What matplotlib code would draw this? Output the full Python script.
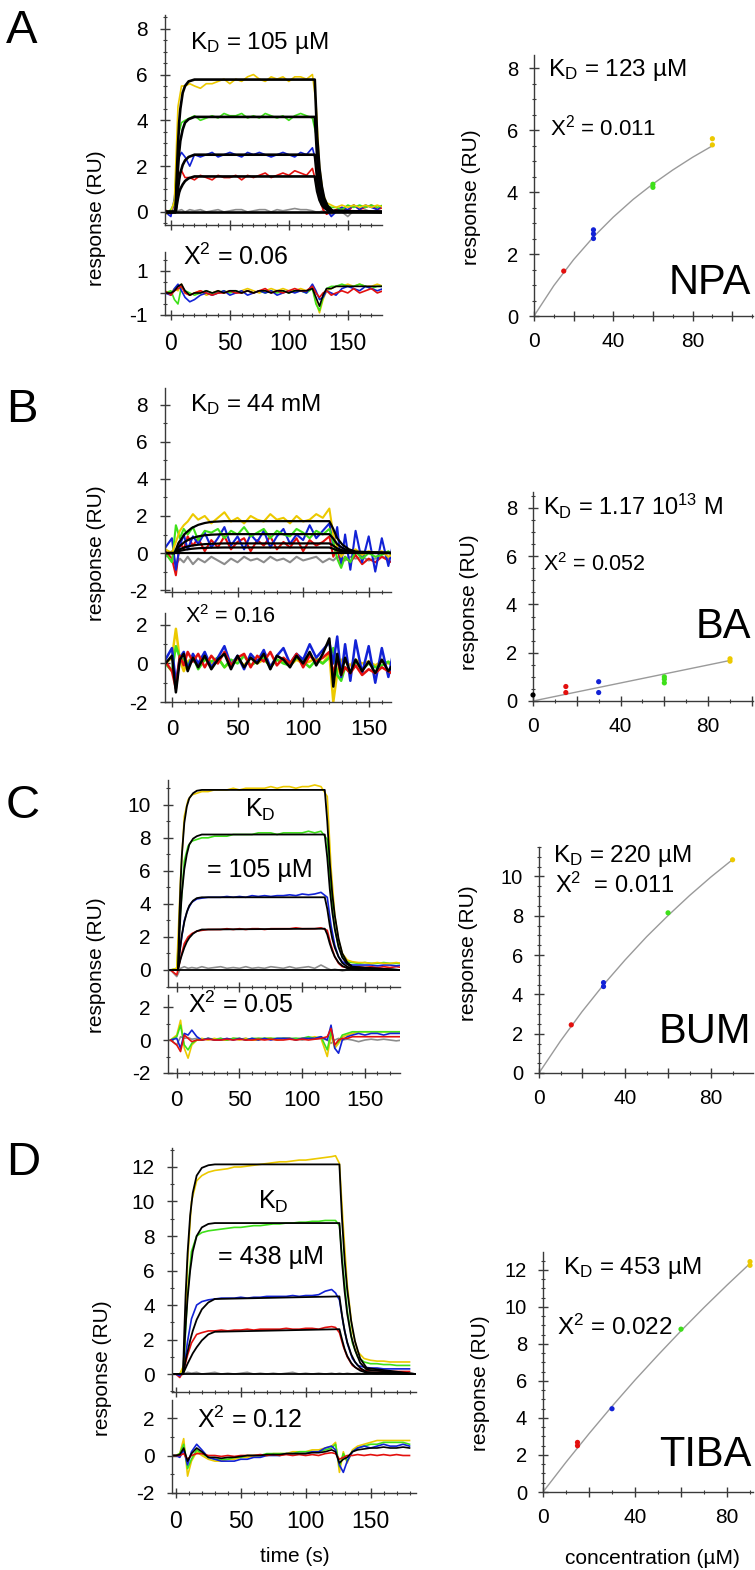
import matplotlib
matplotlib.use('Agg')
import matplotlib.pyplot as plt
from matplotlib.ticker import MultipleLocator, FuncFormatter, NullFormatter

plt.rcParams['font.family'] = ['Liberation Sans', 'DejaVu Sans']
plt.rcParams['mathtext.fontset'] = 'custom'
plt.rcParams['mathtext.rm'] = 'Liberation Sans'
plt.rcParams['mathtext.it'] = 'Liberation Sans:italic'

# ---------------- data ----------------
# shared time grid (s) for the measured sensorgrams and residuals
t_grid = [-5, 0, 3, 6, 9, 12, 16, 20, 25, 30, 35, 40, 45, 50, 55, 60, 65, 70, 75, 80, 85, 90,
          95, 100, 105, 110, 115, 120, 123, 126, 129, 132, 136, 140, 145, 150, 155, 160, 165,
          170, 175, 180]

# A (NPA)
a_yellow = [-0.1, 0.0, 0.5, 4.6, 5.5, 5.5, 5.6, 5.5, 5.4, 5.6, 5.6, 5.7, 5.8, 5.6, 5.8, 5.7, 5.9, 6.0, 5.8, 5.7, 5.9,
            5.8, 5.9, 5.7, 5.9, 5.9, 5.8, 6.0, 4.8, 2.0, 0.8, 0.4, 0.3, 0.2, 0.3, 0.2, 0.3, 0.2, 0.3, 0.2, 0.3, 0.2]
a_green = [-0.1, 0.1, 0.4, 3.3, 3.9, 4.0, 4.1, 4.2, 4.0, 4.1, 4.2, 4.1, 4.3, 4.2, 4.2, 4.3, 4.1, 4.2, 4.1, 4.3, 4.2,
           4.1, 4.2, 4.0, 4.2, 4.3, 4.2, 4.1, 3.4, 1.5, 0.6, 0.3, 0.2, 0.2, 0.1, 0.3, 0.2, 0.3, 0.2, 0.3, 0.2, 0.3]
a_blue = [0.0, -0.2, 0.6, 2.3, 2.6, 2.4, 2.0, 2.5, 2.4, 2.5, 2.6, 2.4, 2.5, 2.6, 2.5, 2.4, 2.6, 2.5, 2.6, 2.5, 2.4,
          2.5, 2.6, 2.5, 2.4, 2.6, 2.5, 2.8, 2.2, 1.0, 0.4, 0.1, -0.2, 0.0, 0.2, 0.1, 0.3, 0.1, 0.3, 0.2, 0.1, 0.3]
a_red = [0.1, -0.1, 0.4, 1.6, 1.8, 1.5, 1.5, 1.4, 1.6, 1.5, 1.4, 1.6, 1.5, 1.5, 1.6, 1.4, 1.6, 1.5, 1.6, 1.7, 1.5,
         1.6, 1.7, 1.6, 1.8, 1.7, 1.6, 1.9, 1.3, 0.6, 0.1, -0.1, 0.0, 0.1, 0.2, 0.0, 0.3, 0.1, 0.2, 0.3, 0.1, 0.2]
a_gray = [0.0, -0.05, 0.1, 0.05, 0.1, 0.0, 0.1, 0.05, 0.1, 0.0, 0.05, 0.1, 0.0, 0.05, 0.1, 0.1, 0.0, 0.05, 0.1, 0.1,
          0.0, 0.1, 0.05, 0.1, 0.15, 0.1, 0.1, 0.05, 0.0, 0.0, 0.05, 0.0, -0.1, 0.05, 0.0, -0.2, 0.05, 0.0, 0.1, 0.0,
          0.05, 0.0]
a_fit_t = [-5, 4, 5, 6, 7, 8, 10, 12, 15, 20, 122, 124, 126, 128, 130, 133, 137, 180]
a_fit_yellow = [0, 0, 1.6, 2.9, 3.9, 4.5, 5.2, 5.5, 5.7, 5.78, 5.78, 3.3, 1.9, 1.1, 0.6, 0.25, 0.05, 0]
a_fit_green = [0, 0, 1.0, 1.9, 2.6, 3.1, 3.6, 3.9, 4.05, 4.15, 4.15, 2.4, 1.4, 0.8, 0.45, 0.2, 0.04, 0]
a_fit_blue = [0, 0, 0.55, 1.0, 1.4, 1.7, 2.05, 2.25, 2.4, 2.5, 2.5, 1.45, 0.85, 0.5, 0.3, 0.12, 0.02, 0]
a_fit_red = [0, 0, 0.3, 0.6, 0.85, 1.0, 1.2, 1.35, 1.47, 1.55, 1.55, 0.9, 0.52, 0.3, 0.18, 0.08, 0.01, 0]
a_res_yellow = [0.0, 0.0, 0.2, 0.1, 0.4, 0.0, -0.1, 0.0, 0.1, -0.1, 0.0, 0.1, 0.0, 0.1, 0.0, 0.1, 0.2, 0.1, 0.0, 0.1,
                0.2, 0.1, 0.2, 0.1, 0.1, 0.2, 0.1, 0.3, -0.4, -0.9, -0.3, 0.1, 0.2, 0.3, 0.3, 0.4, 0.3, 0.4, 0.3, 0.3,
                0.4, 0.3]
a_res_green = [0.0, 0.1, -0.3, -0.5, 0.3, 0.1, 0.0, -0.1, 0.0, 0.1, 0.0, 0.0, 0.1, 0.0, 0.1, 0.0, 0.1, 0.0, 0.1, 0.0,
               0.1, 0.0, 0.1, 0.0, 0.1, 0.1, 0.0, 0.2, -0.5, -0.8, -0.2, 0.2, 0.3, 0.3, 0.4, 0.3, 0.3, 0.4, 0.3, 0.2,
               0.3, 0.3]
a_res_blue = [0.0, -0.1, 0.2, 0.4, 0.1, -0.2, -0.4, -0.3, -0.1, 0.0, -0.1, 0.0, 0.1, -0.1, 0.0, 0.1, -0.1, 0.0, 0.1,
              0.0, 0.1, -0.1, 0.0, 0.1, 0.0, 0.1, 0.0, 0.4, 0.1, -0.3, -0.2, 0.1, 0.0, -0.1, 0.2, 0.3, 0.2, 0.1, 0.3,
              0.2, 0.1, 0.2]
a_res_red = [0.1, -0.1, 0.1, 0.2, 0.3, 0.0, -0.1, 0.0, 0.1, 0.0, -0.1, 0.0, 0.0, 0.1, 0.0, 0.0, 0.1, 0.0, 0.1, 0.2,
             0.0, 0.1, 0.0, 0.1, 0.2, 0.1, 0.1, 0.3, 0.0, -0.2, 0.0, 0.1, -0.1, 0.0, 0.1, 0.0, 0.2, 0.0, 0.1, 0.2,
             0.0, 0.1]
a_res_black = [0.0, 0.0, 0.1, 0.3, 0.4, 0.1, -0.1, 0.0, 0.0, 0.1, 0.0, 0.1, 0.0, 0.1, 0.1, 0.0, 0.1, 0.0, 0.1, 0.1,
               0.0, 0.1, 0.1, 0.0, 0.1, 0.1, 0.1, 0.2, -0.2, -0.6, -0.1, 0.2, 0.2, 0.3, 0.3, 0.3, 0.3, 0.3, 0.3, 0.3,
               0.3, 0.3]
a_conc = [15, 30, 30, 30, 60, 60, 90, 90]
a_resp = [1.45, 2.5, 2.65, 2.78, 4.15, 4.25, 5.52, 5.72]
a_curve_c = [0, 10, 20, 30, 40, 50, 60, 70, 80, 90]
a_curve_r = [0, 0.98, 1.82, 2.55, 3.19, 3.76, 4.26, 4.71, 5.12, 5.49]

# B (BA)
b_yellow = [0.2, 0.0, 0.6, 1.2, 1.5, 1.7, 2.1, 1.8, 2.0, 1.6, 1.9, 2.2, 1.7, 1.9, 1.6, 2.0, 1.8, 1.7, 2.1, 1.8, 1.9,
            1.6, 2.0, 1.7, 1.8, 2.1, 1.9, 2.4, 1.0, 0.3, -0.2, 0.1, 0.0, 0.2, -0.1, 0.1, 0.0, 0.1, -0.2, 0.0, 0.1, 0.0]
b_green = [0.0, -0.5, 1.5, 0.8, 1.3, 1.0, 1.4, 0.7, 1.2, 1.1, 1.3, 0.8, 1.2, 1.0, 1.4, 0.9, 1.1, 1.3, 0.8, 1.2, 1.0,
           0.9, 1.3, 1.1, 0.8, 1.2, 1.0, 1.3, 0.6, -0.3, -0.8, -0.2, -0.5, 0.1, -0.3, 0.0, -0.2, -0.1, 0.1, -0.3, 0.0,
           -0.1]
b_blue = [0.3, 0.8, -0.9, 0.4, 1.0, 0.2, 0.9, 0.5, 1.1, 0.3, 0.8, 1.4, 0.4, 0.9, 0.2, 1.0, 0.6, 1.2, 0.3, 0.9, 1.3,
          0.5, 1.0, 0.7, 1.5, 0.8, 1.2, 1.6, 0.4, 1.4, -0.6, 1.0, -0.9, 1.2, -0.5, 0.9, -1.0, 0.8, -0.7, 1.0, -1.1, 0.9]
b_red = [0.1, -0.3, -1.2, 0.6, 0.2, 0.9, 0.4, 0.8, 0.1, 0.7, 0.3, 0.9, 0.2, 0.6, 0.8, 0.1, 0.7, 0.4, 0.9, 0.2, 0.6,
         0.3, 0.8, 0.1, 0.7, 0.4, 0.6, 0.9, -0.2, 0.3, -0.6, -0.2, -0.5, -0.1, -0.6, -0.3, -0.5, -0.2, -0.4, -0.6,
         -0.3, -0.5]
b_gray = [-0.2, 0.1, -0.6, -0.3, -0.5, -0.2, -0.6, -0.3, -0.5, -0.2, -0.4, -0.6, -0.3, -0.5, -0.2, -0.4, -0.3, -0.5,
          -0.2, -0.4, -0.3, -0.5, -0.2, -0.4, -0.3, -0.2, -0.5, -0.3, -0.4, -0.2, -0.3, -0.4, -0.2, -0.3, -0.2, -0.4,
          -0.3, -0.2, -0.3, -0.2, -0.3, -0.2]
b_fit_t = [-5, 2, 5, 10, 15, 20, 25, 30, 40, 120, 123, 126, 130, 135, 140, 170]
b_fit_yellow = [0, 0, 0.55, 1.05, 1.35, 1.52, 1.62, 1.68, 1.72, 1.72, 1.3, 0.8, 0.45, 0.2, 0.08, 0]
b_fit_green = [0, 0, 0.33, 0.62, 0.8, 0.9, 0.96, 0.99, 1.02, 1.02, 0.78, 0.48, 0.27, 0.12, 0.05, 0]
b_fit_blue = [0, 0, 0.17, 0.32, 0.4, 0.45, 0.48, 0.5, 0.52, 0.52, 0.4, 0.25, 0.14, 0.06, 0.02, 0]
b_fit_red = [0, 0, 0.1, 0.18, 0.23, 0.26, 0.28, 0.29, 0.3, 0.3, 0.23, 0.14, 0.08, 0.04, 0.01, 0]
b_res_yellow = [0.0, 0.3, 1.8, 0.2, -0.4, 0.1, 0.3, -0.1, 0.2, 0.0, 0.3, -0.2, 0.1, 0.2, -0.1, 0.3, 0.0, 0.2, -0.1,
                0.2, 0.1, -0.1, 0.2, 0.0, 0.1, 0.3, 0.0, 0.5, -2.0, -0.5, 0.2, 0.1, -0.1, 0.2, 0.0, 0.1, -0.1, 0.1,
                0.0, 0.1, 0.0, 0.1]
b_res_green = [0.0, -0.4, 0.9, 0.3, 0.2, -0.1, 0.4, -0.3, 0.2, 0.1, 0.3, -0.2, 0.2, 0.0, 0.4, -0.1, 0.1, 0.3, -0.2,
               0.2, 0.0, -0.1, 0.3, 0.1, -0.2, 0.2, 0.0, 0.3, 0.8, -0.6, -0.9, -0.2, -0.5, 0.1, -0.3, 0.0, -0.2, -0.1,
               0.1, -0.3, 0.0, -0.1]
b_res_blue = [0.2, 0.8, -1.0, 0.3, 0.6, -0.3, 0.5, 0.0, 0.6, -0.2, 0.3, 0.9, -0.1, 0.4, -0.3, 0.5, 0.1, 0.7, -0.2,
              0.4, 0.8, 0.0, 0.5, 0.2, 1.0, 0.3, 0.7, 1.1, 0.0, 1.4, -0.7, 1.0, -0.9, 1.2, -0.5, 0.9, -1.0, 0.8, -0.7,
              1.0, -1.1, 0.9]
b_res_red = [0.1, -0.4, -1.3, 0.4, -0.1, 0.6, 0.1, 0.5, -0.2, 0.4, 0.0, 0.6, -0.1, 0.3, 0.5, -0.2, 0.4, 0.1, 0.6,
             -0.1, 0.3, 0.0, 0.5, -0.2, 0.4, 0.1, 0.3, 0.6, -0.5, 0.2, -0.6, -0.2, -0.5, -0.1, -0.6, -0.3, -0.5, -0.2,
             -0.4, -0.6, -0.3, -0.5]
b_res_black = [0.0, 0.4, -1.5, 0.2, 0.5, -0.4, 0.3, -0.2, 0.4, -0.3, 0.2, 0.5, -0.3, 0.4, -0.2, 0.3, 0.0, 0.5, -0.3,
               0.4, 0.2, -0.2, 0.4, 0.0, 0.6, -0.1, 0.5, 1.3, -1.2, 0.5, -0.6, 0.3, -0.5, 0.2, -0.4, 0.1, -0.5, 0.2,
               -0.4, 0.1, -0.5, 0.0]
b_conc = [0, 15, 15, 30, 30, 60, 60, 60, 90, 90]
b_resp = [0.25, 0.35, 0.6, 0.35, 0.8, 0.75, 0.9, 1.0, 1.65, 1.75]
b_curve_c = [0, 90]
b_curve_r = [0, 1.68]

# C (BUM)
c_yellow = [0.0, 0.1, 5.5, 9.3, 10.3, 10.6, 10.7, 10.8, 10.8, 10.9, 10.9, 10.9, 11.0, 10.9, 11.0, 11.0, 11.0, 11.0,
            11.1, 11.0, 11.1, 11.1, 11.0, 11.1, 11.1, 11.2, 11.1, 10.5, 6.2, 3.3, 1.8, 1.0, 0.6, 0.5, 0.45, 0.45, 0.4,
            0.45, 0.4, 0.4, 0.45, 0.4]
c_green = [0.0, 0.1, 3.6, 6.6, 7.5, 7.8, 7.9, 8.0, 8.0, 8.1, 8.1, 8.1, 8.2, 8.2, 8.2, 8.2, 8.3, 8.3, 8.3, 8.2, 8.3,
           8.3, 8.3, 8.3, 8.4, 8.3, 8.4, 7.9, 4.7, 2.5, 1.4, 0.8, 0.5, 0.45, 0.4, 0.45, 0.4, 0.4, 0.45, 0.4, 0.4, 0.4]
c_blue = [0.0, 0.0, 1.5, 3.0, 3.7, 4.1, 4.3, 4.35, 4.4, 4.4, 4.4, 4.45, 4.4, 4.45, 4.4, 4.5, 4.45, 4.5, 4.45, 4.5,
          4.5, 4.55, 4.5, 4.6, 4.55, 4.6, 4.7, 4.4, 2.7, 1.5, 0.8, 0.5, 0.35, 0.3, 0.3, 0.3, 0.3, 0.25, 0.3, 0.3, 0.25,
          0.3]
c_red = [0.0, -0.3, 0.7, 1.6, 2.0, 2.2, 2.35, 2.4, 2.45, 2.45, 2.45, 2.5, 2.45, 2.5, 2.45, 2.5, 2.5, 2.45, 2.5, 2.5,
         2.5, 2.5, 2.55, 2.5, 2.5, 2.5, 2.55, 2.4, 1.5, 0.8, 0.4, 0.2, 0.15, 0.15, 0.2, 0.15, 0.2, 0.15, 0.2, 0.15,
         0.2, 0.15]
c_gray = [0.0, -0.4, 0.1, 0.2, 0.1, 0.15, 0.1, 0.2, 0.1, 0.15, 0.2, 0.1, 0.15, 0.1, 0.2, 0.1, 0.15, 0.1, 0.2, 0.15,
          0.1, 0.2, 0.1, 0.15, 0.2, 0.1, 0.3, 0.1, 0.0, 0.05, 0.0, -0.05, 0.0, 0.05, 0.0, 0.05, 0.0, 0.05, 0.0, 0.05,
          0.0, 0.0]
c_fit_t = [-7, 1, 2, 3, 4, 6, 8, 10, 13, 16, 20, 118, 120, 122, 124, 126, 129, 132, 136, 140, 178]
c_fit_yellow = [0, 0, 3.0, 5.2, 6.9, 8.9, 9.9, 10.4, 10.7, 10.85, 10.9, 10.9, 9.0, 6.5, 4.6, 3.3, 1.9, 1.0, 0.45, 0.2, 0]
c_fit_green = [0, 0, 1.9, 3.4, 4.6, 6.1, 7.0, 7.6, 7.95, 8.1, 8.2, 8.2, 6.8, 4.9, 3.5, 2.5, 1.4, 0.75, 0.35, 0.15, 0]
c_fit_blue = [0, 0, 0.8, 1.5, 2.1, 2.9, 3.5, 3.9, 4.2, 4.35, 4.4, 4.4, 3.7, 2.7, 1.9, 1.35, 0.8, 0.42, 0.2, 0.08, 0]
c_fit_red = [0, 0, 0.35, 0.65, 0.9, 1.35, 1.7, 1.95, 2.2, 2.35, 2.45, 2.5, 2.15, 1.6, 1.15, 0.8, 0.45, 0.25, 0.1, 0.04, 0]
c_res_yellow = [0.0, 0.3, 1.2, -0.5, -1.1, -0.3, 0.0, 0.1, 0.0, 0.1, 0.0, 0.0, 0.1, 0.0, 0.1, 0.0, 0.0, 0.1, 0.1, 0.0,
                0.1, 0.1, 0.0, 0.1, 0.1, 0.2, 0.1, -1.0, 0.3, -0.5, -0.2, 0.2, 0.3, 0.4, 0.5, 0.5, 0.5, 0.5, 0.5, 0.5,
                0.5, 0.5]
c_res_green = [0.0, 0.2, 0.9, -0.3, -0.6, -0.2, 0.0, 0.0, 0.1, 0.0, 0.1, 0.0, 0.1, 0.1, 0.0, 0.1, 0.1, 0.1, 0.1, 0.1,
               0.1, 0.1, 0.1, 0.1, 0.2, 0.1, 0.2, -0.6, 0.5, -0.3, -0.1, 0.3, 0.4, 0.5, 0.5, 0.5, 0.5, 0.5, 0.5, 0.5,
               0.5, 0.5]
c_res_blue = [0.0, 0.1, -0.5, 0.4, 0.3, 0.6, 0.2, 0.0, 0.1, 0.0, 0.0, 0.1, 0.0, 0.1, 0.0, 0.1, 0.0, 0.1, 0.0, 0.1,
              0.1, 0.1, 0.0, 0.1, 0.1, 0.1, 0.2, 0.0, 0.9, -0.5, -0.8, 0.0, 0.2, 0.3, 0.4, 0.3, 0.4, 0.4, 0.3, 0.4,
              0.4, 0.4]
c_res_red = [0.0, -0.3, -0.7, 0.3, 0.1, -0.1, 0.0, 0.0, 0.05, 0.0, 0.0, 0.05, 0.0, 0.05, 0.0, 0.0, 0.05, 0.0, 0.05,
             0.0, 0.0, 0.05, 0.0, 0.05, 0.0, 0.05, 0.1, 0.2, 0.7, -0.3, 0.0, 0.1, 0.1, 0.2, 0.2, 0.2, 0.2, 0.2, 0.2,
             0.2, 0.2, 0.2]
c_res_gray = [0.0, -0.3, 0.2, 0.1, 0.15, 0.05, 0.1, 0.0, 0.1, 0.05, 0.1, 0.0, 0.1, 0.05, 0.1, 0.0, 0.1, 0.05, 0.1,
              0.0, 0.1, 0.05, 0.1, 0.0, 0.1, 0.05, 0.1, 0.0, -0.2, 0.0, 0.1, 0.0, 0.05, 0.0, -0.1, 0.0, 0.05, 0.0,
              0.05, 0.0, -0.05, 0.0]
c_conc = [15, 30, 30, 60, 90]
c_resp = [2.45, 4.4, 4.6, 8.15, 10.85]
c_curve_c = [0, 10, 20, 30, 40, 50, 60, 70, 80, 90]
c_curve_r = [0, 1.63, 3.12, 4.49, 5.75, 6.93, 8.01, 9.03, 9.98, 10.86]

# D (TIBA)
d_yellow = [0.0, 0.0, 0.0, 0.5, 6.5, 10.0, 11.2, 11.5, 11.7, 11.8, 11.85, 11.9, 12.0, 12.0, 12.05, 12.1, 12.15, 12.2,
            12.25, 12.3, 12.3, 12.35, 12.4, 12.4, 12.45, 12.5, 12.55, 12.6, 12.65, 12.2, 8.5, 5.2, 2.5, 1.3, 0.9, 0.8,
            0.75, 0.75, 0.7, 0.7, 0.7, 0.7]
d_green = [0.0, 0.0, 0.0, 0.4, 4.7, 7.1, 8.0, 8.2, 8.3, 8.35, 8.4, 8.45, 8.5, 8.5, 8.55, 8.6, 8.6, 8.65, 8.7, 8.7,
           8.75, 8.75, 8.8, 8.8, 8.85, 8.85, 8.9, 8.9, 8.9, 8.6, 6.0, 3.7, 1.8, 1.0, 0.7, 0.6, 0.6, 0.55, 0.55, 0.5,
           0.5, 0.5]
d_blue = [0.0, 0.0, -0.1, 0.3, 1.9, 3.2, 4.0, 4.2, 4.3, 4.35, 4.4, 4.4, 4.4, 4.45, 4.4, 4.45, 4.45, 4.5, 4.5, 4.5,
          4.5, 4.55, 4.5, 4.55, 4.55, 4.6, 4.8, 4.9, 4.7, 4.3, 2.9, 1.8, 0.9, 0.5, 0.4, 0.35, 0.35, 0.3, 0.3, 0.3,
          0.3, 0.3]
d_red = [0.0, 0.0, -0.2, 0.2, 1.1, 1.8, 2.3, 2.4, 2.5, 2.5, 2.55, 2.5, 2.55, 2.55, 2.6, 2.55, 2.6, 2.6, 2.6, 2.6,
         2.65, 2.6, 2.6, 2.65, 2.65, 2.6, 2.7, 2.75, 2.7, 2.4, 1.6, 1.0, 0.5, 0.3, 0.2, 0.2, 0.2, 0.15, 0.15, 0.15,
         0.15, 0.15]
d_gray = [0.0, 0.0, -0.1, 0.0, 0.1, 0.05, 0.1, 0.0, 0.05, 0.1, 0.0, 0.05, 0.0, 0.05, 0.1, 0.0, 0.05, 0.0, 0.05, 0.0,
          0.05, 0.1, 0.0, 0.05, 0.0, 0.05, 0.0, 0.05, 0.0, 0.05, 0.0, 0.05, 0.0, 0.05, 0.0, 0.05, 0.0, 0.05, 0.0,
          0.05, 0.0, 0.0]
d_fit_t = [-3, 5.5, 6.5, 7.5, 9, 11, 13, 16, 20, 25, 30, 126, 127, 128, 130, 132, 135, 138, 142, 147, 185]
d_fit_yellow = [0, 0, 2.5, 4.6, 7.0, 9.2, 10.5, 11.5, 11.95, 12.1, 12.15, 12.15, 10.5, 9.0, 6.6, 4.9, 3.1, 1.9, 0.9,
                0.35, 0]
d_fit_green = [0, 0, 1.5, 2.8, 4.4, 6.0, 7.1, 8.0, 8.5, 8.7, 8.75, 8.75, 7.6, 6.5, 4.8, 3.5, 2.2, 1.4, 0.65, 0.25, 0]
d_fit_blue = [0, 0, 0.4, 0.8, 1.3, 1.95, 2.5, 3.15, 3.75, 4.15, 4.35, 4.5, 3.95, 3.4, 2.5, 1.85, 1.15, 0.7, 0.35,
              0.12, 0]
d_fit_red = [0, 0, 0.18, 0.35, 0.6, 0.9, 1.2, 1.55, 1.95, 2.3, 2.45, 2.6, 2.3, 2.0, 1.45, 1.05, 0.65, 0.4, 0.2, 0.07, 0]
d_res_yellow = [0.0, 0.0, 0.1, 0.9, -1.1, -0.3, 0.2, 0.0, -0.2, -0.3, -0.3, -0.2, -0.2, -0.1, -0.1, 0.0, 0.0, 0.0,
                0.1, 0.1, 0.1, 0.2, 0.2, 0.2, 0.3, 0.3, 0.4, 0.5, 0.7, -0.9, 0.2, -0.4, 0.3, 0.5, 0.6, 0.7, 0.8, 0.8,
                0.8, 0.8, 0.8, 0.8]
d_res_green = [0.0, 0.0, 0.1, 0.6, -0.7, -0.2, 0.3, 0.1, -0.1, -0.2, -0.2, -0.2, -0.1, -0.1, 0.0, 0.0, 0.0, 0.1, 0.1,
               0.1, 0.1, 0.1, 0.2, 0.2, 0.2, 0.2, 0.3, 0.4, 0.6, -0.6, 0.1, -0.3, 0.2, 0.4, 0.5, 0.6, 0.6, 0.7, 0.7,
               0.7, 0.7, 0.6]
d_res_blue = [0.0, 0.0, -0.1, 0.3, -0.5, 0.2, 0.6, 0.3, -0.1, -0.2, -0.3, -0.3, -0.3, -0.2, -0.2, -0.1, -0.1, 0.0,
              0.0, 0.0, 0.1, 0.1, 0.1, 0.1, 0.2, 0.2, 0.4, 0.5, 0.3, -0.5, -0.9, -0.3, 0.2, 0.4, 0.5, 0.4, 0.5, 0.6,
              0.5, 0.5, 0.6, 0.5]
d_res_red = [0.0, 0.0, 0.0, 0.1, -0.2, 0.0, 0.1, 0.1, 0.0, 0.0, -0.05, 0.0, -0.05, 0.0, 0.0, 0.0, 0.05, 0.0, 0.05,
             0.0, 0.05, 0.0, 0.05, 0.0, 0.05, 0.0, 0.1, 0.15, 0.1, -0.2, -0.1, 0.0, 0.0, 0.05, 0.0, 0.05, 0.0, 0.05,
             0.0, 0.05, 0.0, 0.0]
d_res_black = [0.0, 0.0, 0.05, 0.4, -0.3, 0.1, 0.4, 0.2, -0.1, -0.1, -0.15, -0.1, -0.1, -0.05, 0.0, 0.0, 0.0, 0.05,
               0.05, 0.05, 0.1, 0.1, 0.1, 0.1, 0.15, 0.15, 0.2, 0.3, 0.2, -0.4, -0.2, -0.1, 0.2, 0.3, 0.35, 0.4, 0.4,
               0.45, 0.4, 0.4, 0.45, 0.4]
d_conc = [15, 15, 30, 60, 90, 90]
d_resp = [2.5, 2.68, 4.5, 8.8, 12.25, 12.45]
d_curve_c = [0, 10, 20, 30, 40, 50, 60, 70, 80, 90]
d_curve_r = [0, 1.61, 3.15, 4.63, 6.05, 7.40, 8.71, 9.97, 11.18, 12.35]

# ---------------- styling ----------------
YEL, GRN, BLU, RED, GRY = '#ecc900', '#3ee01a', '#1222d6', '#e3100e', '#8c8c8c'
CONC_COLOR = {0: 'black', 15: RED, 30: BLU, 60: GRN, 90: YEL}
AX_COL = '#3a3a3a'

W, H = 755, 1570
fig = plt.figure(figsize=(W / 100, H / 100), dpi=100)


def px_axes(x0, y0, x1, y1):
    return fig.add_axes([x0 / W, 1 - y1 / H, (x1 - x0) / W, (y1 - y0) / H])


def ftext(x, y, s, size, **kw):
    kw.setdefault('ha', 'left')
    fig.text(x / W, 1 - y / H, s, fontsize=size, va='center', **kw)


def style(ax, xlim, ylim, xmajor, xminor, ymajor, yminor, xlab=True, ylab_ticks=None, xlab_ticks=None,
          xsize=16, ysize=15, xpad=9, ypad=9):
    ax.set_xlim(*xlim)
    ax.set_ylim(*ylim)
    ax.patch.set_alpha(0)
    for s in ['top', 'right']:
        ax.spines[s].set_visible(False)
    for s in ['left', 'bottom']:
        ax.spines[s].set_color(AX_COL)
        ax.spines[s].set_linewidth(1.0)
    ax.xaxis.set_major_locator(MultipleLocator(xmajor))
    ax.xaxis.set_minor_locator(MultipleLocator(xminor))
    ax.yaxis.set_major_locator(MultipleLocator(ymajor))
    ax.yaxis.set_minor_locator(MultipleLocator(yminor))
    if ylab_ticks is not None:
        ax.yaxis.set_major_formatter(FuncFormatter(
            lambda v, p: '%g' % v if any(abs(v - k) < 1e-6 for k in ylab_ticks) else ''))
    else:
        ax.yaxis.set_major_formatter(FuncFormatter(lambda v, p: '%g' % v))
    if not xlab:
        ax.xaxis.set_major_formatter(NullFormatter())
    elif xlab_ticks is not None:
        ax.xaxis.set_major_formatter(FuncFormatter(
            lambda v, p: '%g' % v if any(abs(v - k) < 1e-6 for k in xlab_ticks) else ''))
    ax.tick_params(which='major', direction='inout', length=7, width=1.0, color=AX_COL)
    ax.tick_params(which='minor', direction='inout', length=3.5, width=0.8, color=AX_COL)
    ax.tick_params(axis='x', labelsize=xsize, pad=xpad)
    ax.tick_params(axis='y', labelsize=ysize, pad=ypad)


def sensorgram(ax, traces, fit_t, fits, lw=1.2, flw=1.7):
    for col, vals in traces:
        ax.plot(t_grid, vals, color=col, lw=lw)
    for vals in fits:
        ax.plot(fit_t, vals, color='black', lw=flw)
    ax.plot([fit_t[0], fit_t[-1]], [0, 0], color='black', lw=flw)


def residual(ax, traces, lw=1.2):
    for col, vals in traces:
        ax.plot(t_grid, vals, color=col, lw=lw)


def isotherm(ax, conc, resp, cc, cr):
    ax.plot(cc, cr, color='#9a9a9a', lw=1.0, zorder=2)
    ax.scatter(conc, resp, c=[CONC_COLOR[c] for c in conc], s=14, zorder=3, linewidths=0, clip_on=False)


RIGHT = dict(xlab_ticks=[0, 40, 80], xsize=15, ysize=14.5, xpad=8, ypad=8)

# ---------------- A ----------------
ax = px_axes(165, 15, 382, 225)
style(ax, (-5, 179), (-0.57, 8.6), 50, 10, 2, 0.5, xlab=False, ylab_ticks=[0, 2, 4, 6, 8])
sensorgram(ax, [(GRY, a_gray), (RED, a_red), (BLU, a_blue), (GRN, a_green), (YEL, a_yellow)],
           a_fit_t, [a_fit_yellow, a_fit_green, a_fit_blue, a_fit_red], flw=1.9)
ax = px_axes(165, 252, 382, 315)
style(ax, (-5, 179), (-1, 1.86), 50, 10, 1, 0.5, ylab_ticks=[-1, 1], xsize=16.5)
residual(ax, [(YEL, a_res_yellow), (GRN, a_res_green), (BLU, a_res_blue), (RED, a_res_red), ('black', a_res_black)])
ax = px_axes(534, 55, 753, 316)
style(ax, (0, 110.5), (0, 8.42), 20, 10, 2, 0.5, **RIGHT)
isotherm(ax, a_conc, a_resp, a_curve_c, a_curve_r)

# ---------------- B ----------------
ax = px_axes(165, 388, 391, 592)
style(ax, (-5.3, 167), (-2.1, 8.9), 50, 10, 2, 1, xlab=False)
sensorgram(ax, [(GRY, b_gray), (RED, b_red), (BLU, b_blue), (GRN, b_green), (YEL, b_yellow)],
           b_fit_t, [b_fit_yellow, b_fit_green, b_fit_blue, b_fit_red], lw=1.5, flw=1.6)
ax = px_axes(165, 613, 391, 702)
style(ax, (-5.3, 167), (-2, 2.62), 50, 10, 2, 1)
residual(ax, [(YEL, b_res_yellow), (GRN, b_res_green), (BLU, b_res_blue), (RED, b_res_red), ('black', b_res_black)],
         lw=1.8)
ax = px_axes(533, 492, 753, 701)
style(ax, (0, 100.5), (0, 8.66), 20, 10, 2, 0.5, **RIGHT)
isotherm(ax, b_conc, b_resp, b_curve_c, b_curve_r)

# ---------------- C ----------------
ax = px_axes(168, 780, 400, 987)
style(ax, (-7, 178), (-1.03, 11.5), 50, 10, 2, 1, xlab=False)
sensorgram(ax, [(GRY, c_gray), (RED, c_red), (BLU, c_blue), (GRN, c_green), (YEL, c_yellow)],
           c_fit_t, [c_fit_yellow, c_fit_green, c_fit_blue, c_fit_red], flw=1.3)
ax = px_axes(168, 995, 400, 1073)
style(ax, (-7, 178), (-2, 2.73), 50, 10, 2, 1)
residual(ax, [(GRY, c_res_gray), (YEL, c_res_yellow), (GRN, c_res_green), (BLU, c_res_blue), (RED, c_res_red)])
ax = px_axes(539, 847, 753, 1073)
style(ax, (0, 99.5), (0, 11.5), 20, 10, 2, 0.5, **RIGHT)
isotherm(ax, c_conc, c_resp, c_curve_c, c_curve_r)

# ---------------- D ----------------
ax = px_axes(172, 1148, 416, 1392)
style(ax, (-3, 185), (-1.04, 13.1), 50, 10, 2, 1, xlab=False)
sensorgram(ax, [(GRY, d_gray), (RED, d_red), (BLU, d_blue), (GRN, d_green), (YEL, d_yellow)],
           d_fit_t, [d_fit_yellow, d_fit_green, d_fit_blue, d_fit_red], flw=1.3)
ax = px_axes(172, 1400, 416, 1493)
style(ax, (-3, 185), (-2, 2.96), 50, 10, 2, 1, xsize=16.5)
residual(ax, [(YEL, d_res_yellow), (GRN, d_res_green), (BLU, d_res_blue), (RED, d_res_red), ('black', d_res_black)])
ax = px_axes(543, 1252, 753, 1492)
style(ax, (0, 91.3), (0, 12.97), 20, 10, 2, 0.5, **RIGHT)
isotherm(ax, d_conc, d_resp, d_curve_c, d_curve_r)

# ---------------- texts ----------------
for letter, y in [('A', 31), ('B', 410), ('C', 806), ('D', 1163)]:
    ftext(6, y, letter, 34)

for x, y in [(97, 218), (97, 553), (97, 965), (103, 1368)]:
    ftext(x, y, 'response (RU)', 15, rotation=90, ha='center')
for x, y in [(472, 197), (470, 602), (468, 953), (480, 1383)]:
    ftext(x, y, 'response (RU)', 15, rotation=90, ha='center')
ftext(295, 1557, 'time (s)', 15, ha='center')
ftext(652, 1558, 'concentration (µM)', 15, ha='center')

KD = 'K$_{\\rm D}$'
CHI = 'Χ$^{\\rm 2}$'
ftext(190, 43, KD + ' = 105 µM', 17.5)
ftext(183, 257, CHI + ' = 0.06', 18)
ftext(548, 70, KD + ' = 123 µM', 17.5)
ftext(550, 128, CHI + ' = 0.011', 16)

ftext(190, 405, KD + ' = 44 mM', 17.5)
ftext(185, 617, CHI + ' = 0.16', 15.5)
ftext(543, 506, KD + ' = 1.17 10$^{\\rm 13}$ M', 17)
ftext(543, 565, CHI + ' = 0.052', 15.5)

ftext(245, 810, KD, 18)
ftext(207, 870, '= 105 µM', 18)
ftext(188, 1005, CHI + ' = 0.05', 18)
ftext(553, 856, KD + ' = 220 µM', 17.5)
ftext(555, 885, CHI + '  = 0.011', 17)

ftext(258, 1202, KD, 18)
ftext(218, 1257, '= 438 µM', 18)
ftext(197, 1420, CHI + ' = 0.12', 18)
ftext(563, 1268, KD + ' = 453 µM', 17.5)
ftext(557, 1327, CHI + ' = 0.022', 17.5)

for name, y in [('NPA', 283), ('BA', 627), ('BUM', 1032), ('TIBA', 1455)]:
    ftext(751, y, name, 30, ha='right')

fig.savefig('out.png', dpi=100)
